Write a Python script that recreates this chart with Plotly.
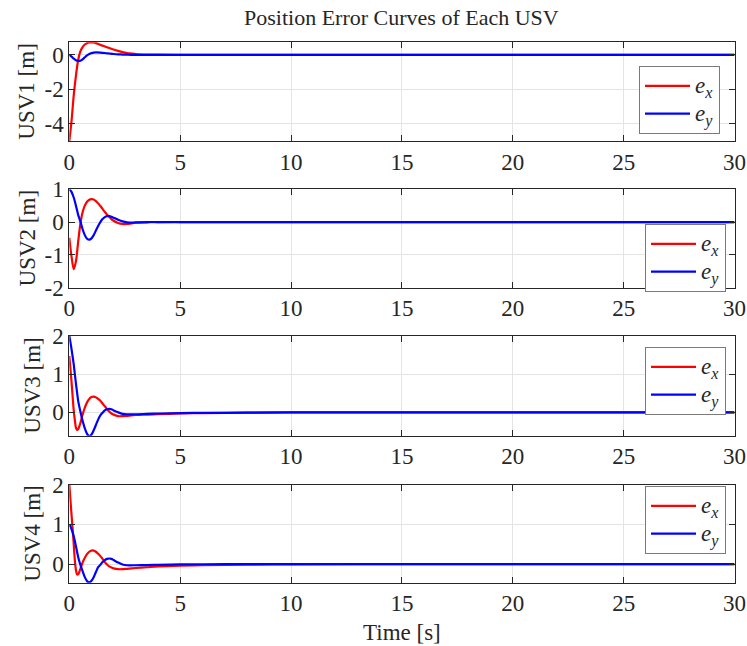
import plotly.graph_objects as go

# ---- sampled error trajectories (time in s, error in m) ----
t1 = [0, 0.1, 0.2, 0.3, 0.4, 0.5, 0.6, 0.7, 0.8, 0.9, 1.0, 1.1, 1.2, 1.4, 1.6, 1.8,
      2.0, 2.2, 2.4, 2.6, 2.8, 3.0, 3.5, 4.0, 5.0, 10.0, 30.0]
usv1_ex = [-5.0, -3.85, -2.35, -1.2, -0.3, 0.2, 0.45, 0.6, 0.68, 0.72, 0.73, 0.72, 0.68,
           0.58, 0.49, 0.4, 0.31, 0.23, 0.16, 0.11, 0.08, 0.05, 0.02, 0.01, 0.0, 0.0, 0.0]
usv1_ey = [0.0, -0.1, -0.22, -0.31, -0.35, -0.34, -0.26, -0.14, -0.03, 0.05, 0.1, 0.13,
           0.14, 0.13, 0.11, 0.08, 0.05, 0.03, 0.02, 0.01, 0.0, 0.0, 0.0, 0.0, 0.0, 0.0, 0.0]

t2 = [0, 0.1, 0.2, 0.3, 0.4, 0.5, 0.6, 0.7, 0.8, 0.9, 1.0, 1.1, 1.2, 1.3, 1.4, 1.5, 1.6,
      1.7, 1.8, 1.9, 2.0, 2.2, 2.4, 2.6, 2.8, 3.0, 3.5, 4.0, 5.0, 10.0, 30.0]
usv2_ex = [-0.48, -1.05, -1.44, -1.2, -0.6, -0.05, 0.3, 0.5, 0.62, 0.68, 0.7, 0.69, 0.64,
           0.57, 0.49, 0.4, 0.31, 0.23, 0.16, 0.09, 0.04, -0.03, -0.06, -0.06, -0.04,
           -0.02, -0.01, 0.0, 0.0, 0.0, 0.0]
usv2_ey = [1.0, 0.92, 0.75, 0.5, 0.22, 0.02, -0.22, -0.4, -0.51, -0.54, -0.5, -0.4, -0.26,
           -0.12, 0.0, 0.09, 0.15, 0.18, 0.18, 0.16, 0.13, 0.07, 0.02, -0.01, -0.02,
           -0.01, 0.0, 0.0, 0.0, 0.0, 0.0]

t3 = [0, 0.1, 0.2, 0.25, 0.3, 0.35, 0.4, 0.5, 0.6, 0.7, 0.8, 0.9, 1.0, 1.1, 1.2, 1.3,
      1.4, 1.5, 1.6, 1.7, 1.8, 1.9, 2.0, 2.2, 2.4, 2.6, 3.0, 3.5, 4.0, 5.0, 6.0, 8.0,
      10.0, 30.0]
usv3_ex = [1.47, 0.8, 0.05, -0.2, -0.4, -0.46, -0.44, -0.28, -0.06, 0.12, 0.26, 0.35,
           0.4, 0.41, 0.39, 0.35, 0.3, 0.23, 0.16, 0.09, 0.02, -0.03, -0.06, -0.1, -0.1,
           -0.09, -0.07, -0.06, -0.05, -0.03, -0.02, -0.01, 0.0, 0.0]
usv3_ey = [2.0, 1.65, 1.25, 1.0, 0.75, 0.52, 0.3, 0.02, -0.22, -0.42, -0.56, -0.62, -0.58,
           -0.47, -0.33, -0.19, -0.08, -0.01, 0.05, 0.08, 0.09, 0.08, 0.05, 0.0, -0.04,
           -0.05, -0.05, -0.04, -0.03, -0.02, -0.015, -0.01, 0.0, 0.0]

t4 = [0, 0.05, 0.1, 0.15, 0.2, 0.25, 0.3, 0.35, 0.4, 0.45, 0.5, 0.6, 0.7, 0.8, 0.9, 1.0,
      1.1, 1.2, 1.3, 1.4, 1.5, 1.6, 1.7, 1.8, 1.9, 2.0, 2.2, 2.4, 2.6, 3.0, 3.5, 4.0,
      5.0, 6.0, 8.0, 10.0, 15.0, 30.0]
usv4_ex = [2.0, 1.62, 1.25, 0.88, 0.5, 0.1, -0.15, -0.26, -0.26, -0.2, -0.12, 0.04, 0.16,
           0.25, 0.31, 0.34, 0.34, 0.31, 0.26, 0.2, 0.13, 0.05, -0.01, -0.06, -0.09,
           -0.11, -0.13, -0.13, -0.12, -0.1, -0.08, -0.06, -0.04, -0.03, -0.015, -0.01,
           0.0, 0.0]
usv4_ey = [1.0, 0.95, 0.88, 0.8, 0.7, 0.58, 0.45, 0.31, 0.18, 0.07, -0.02, -0.18, -0.33,
           -0.43, -0.46, -0.42, -0.33, -0.2, -0.08, -0.02, 0.05, 0.1, 0.13, 0.14, 0.13,
           0.1, 0.04, -0.01, -0.03, -0.03, -0.025, -0.02, -0.01, -0.005, 0.0, 0.0, 0.0,
           0.0]

panels = [
    ("USV1 [m]", t1, usv1_ex, usv1_ey, [-5.0, 0.73], [-4, -2, 0]),
    ("USV2 [m]", t2, usv2_ex, usv2_ey, [-2.0, 1.0], [-2, -1, 0, 1]),
    ("USV3 [m]", t3, usv3_ex, usv3_ey, [-0.61, 2.0], [0, 1, 2]),
    ("USV4 [m]", t4, usv4_ex, usv4_ey, [-0.47, 2.0], [0, 1, 2]),
]
x_ticks = [0, 5, 10, 15, 20, 25, 30]
series_labels = ["<span style='font-size:23px'><i>e<sub>x</sub></i></span>",
                 "<span style='font-size:23px'><i>e<sub>y</sub></i></span>"]

# ---- layout geometry (pixels in a 747 x 646 canvas) ----
W, H = 747, 646
ax_left, ax_right = 69.3, 734.5
ax_tops = [42.3, 189.3, 335.7, 484.7]
ax_bots = [141.0, 287.5, 435.7, 582.7]
ylabel_x = [27, 27, 33, 33]
legend_boxes = [(720, 66), (726, 224), (726, 347), (726, 486)]

FONT = "Liberation Serif"
INK = "#262626"
RED = "#ff0000"
BLUE = "#0000ff"

fig = go.Figure()
layout = dict(
    width=W, height=H,
    margin=dict(l=0, r=0, t=0, b=0),
    paper_bgcolor="white", plot_bgcolor="white",
    font=dict(family=FONT, size=22, color=INK),
    showlegend=True,
    annotations=[],
)

for i, (name, t, ex, ey, yr, yt) in enumerate(panels):
    k = "" if i == 0 else str(i + 1)
    leg = "legend" + k
    fig.add_trace(go.Scatter(x=t, y=ex, mode="lines", name=series_labels[0],
                             line=dict(color=RED, width=2.2, shape="spline", smoothing=0.8),
                             xaxis="x" + k, yaxis="y" + k, legend=leg))
    fig.add_trace(go.Scatter(x=t, y=ey, mode="lines", name=series_labels[1],
                             line=dict(color=BLUE, width=2.2, shape="spline", smoothing=0.8),
                             xaxis="x" + k, yaxis="y" + k, legend=leg))

    axis_style = dict(showline=True, linecolor=INK, linewidth=1, mirror="ticks",
                      ticks="inside", ticklen=6, tickcolor=INK, showgrid=True,
                      gridcolor="#e4e4e4", gridwidth=1, zeroline=False,
                      automargin=False, tickfont=dict(family=FONT, size=23, color=INK))
    layout["xaxis" + k] = dict(axis_style, domain=[ax_left / W, ax_right / W],
                               range=[0, 30], tickvals=x_ticks,
                               ticktext=[str(v) for v in x_ticks],
                               anchor="y" + k)
    layout["yaxis" + k] = dict(axis_style,
                               domain=[1 - ax_bots[i] / H, 1 - ax_tops[i] / H],
                               range=yr, tickvals=yt,
                               ticktext=[str(v) for v in yt],
                               anchor="x" + k)
    lx, ly = legend_boxes[i]
    layout[leg] = dict(x=lx / W, y=1 - ly / H, xanchor="right", yanchor="top",
                       bgcolor="white", bordercolor="#7a7a7a", borderwidth=1,
                       font=dict(family=FONT, size=19, color=INK),
                       itemwidth=45, tracegroupgap=0)
    layout["annotations"].append(dict(
        text=name, textangle=-90, xref="paper", yref="paper",
        x=ylabel_x[i] / W, y=1 - (ax_tops[i] + ax_bots[i]) / 2 / H,
        xanchor="center", yanchor="middle", showarrow=False,
        font=dict(family=FONT, size=23, color=INK)))

layout["annotations"].append(dict(
    text="Time [s]", xref="paper", yref="paper",
    x=(ax_left + ax_right) / 2 / W, y=1 - 632 / H,
    xanchor="center", yanchor="middle", showarrow=False,
    font=dict(family=FONT, size=23, color=INK)))
layout["annotations"].append(dict(
    text="Position Error Curves of Each USV", xref="paper", yref="paper",
    x=(ax_left + ax_right) / 2 / W, y=1 - 18 / H,
    xanchor="center", yanchor="middle", showarrow=False,
    font=dict(family=FONT, size=22, color=INK)))

fig.update_layout(**layout)
fig.write_html("out.html")
